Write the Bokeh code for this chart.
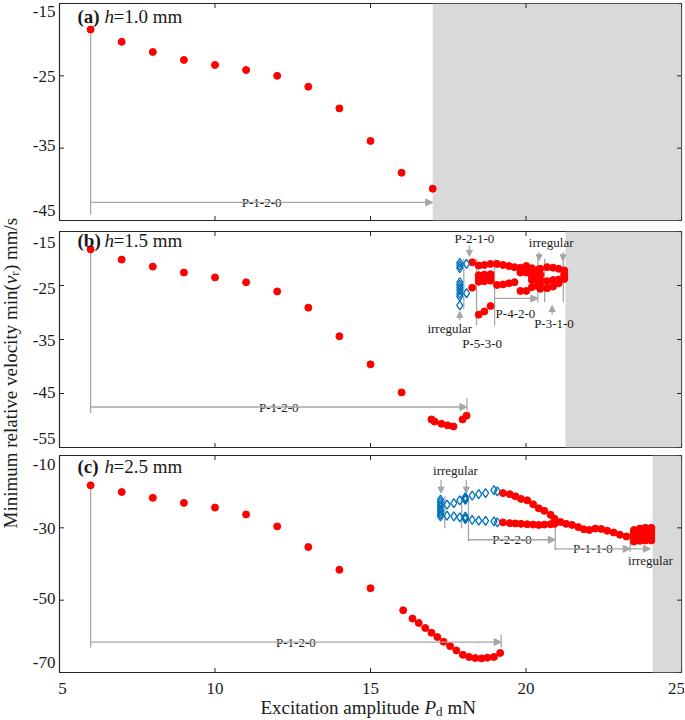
import math
from bokeh.plotting import figure
from bokeh.layouts import column, row
from bokeh.models import BoxAnnotation, Arrow, NormalHead, Range1d
from bokeh.core.properties import value
from bokeh.embed import file_html
from bokeh.resources import INLINE

FONT = "Liberation Serif"
RED = "#ff0000"
BLUE = "#0072bd"
GRAY = "#a6a6a6"
AXC = "#262626"
TXT = "#1a1a1a"

# ---------------- data ----------------
x_ticks = [5, 10, 15, 20, 25]
x_range = (5, 25)

# (a) h = 1.0 mm
a_yticks = [-45, -35, -25, -15]
a_yrange = (-45, -15)
a_shade = 17.0
a_pd = [6, 7, 8, 9, 10, 11, 12, 13, 14, 15, 16, 17]
a_v = [-18.6, -20.3, -21.7, -22.8, -23.5, -24.2, -25.0, -26.5, -29.5, -34.0, -38.4, -40.6]

# (b) h = 1.5 mm
b_yticks = [-55, -45, -35, -25, -15]
b_yrange = (-55, -15)
b_shade = 21.27
b_pd = [6, 7, 8, 9, 10, 11, 12, 13, 14, 15, 16,
        16.96, 17.06, 17.28, 17.48, 17.67, 17.96, 18.09]
b_v = [-18.3, -20.2, -21.5, -22.6, -23.5, -24.4, -26.1, -29.1, -34.4, -39.6, -44.8,
       -49.8, -50.2, -50.6, -50.9, -51.1, -49.8, -49.1]
b_red_cols = [18.27, 18.48, 18.66, 18.86, 19.07, 19.26, 19.45, 19.63, 19.82, 20.01,
              20.19, 20.38, 20.46, 20.68, 20.87, 21.05, 21.23]
b_red_vals = [[-20.7, -25.4],
              [-21.3, -23.1, -23.7, -24.3, -30.4],
              [-21.2, -23.0, -23.6, -24.2, -29.8],
              [-21.0, -22.9, -23.5, -24.1, -28.8],
              [-21.0, -24.9],
              [-21.2, -24.8],
              [-21.4, -24.6],
              [-21.6, -24.4],
              [-21.7, -22.6, -26.0],
              [-21.4, -22.6, -26.0],
              [-21.8, -22.7, -23.4, -24.0, -25.3],
              [-22.1, -22.9, -23.6, -24.3, -25.1],
              [-21.9, -23.0, -23.9, -24.9, -25.6],
              [-21.6, -24.2, -25.5],
              [-21.7, -24.0, -25.2],
              [-21.9, -23.9, -24.6],
              [-22.2, -22.6, -23.0, -23.4, -23.8]]
b_blue_cols = [17.87, 18.09]
b_blue_vals = [[-20.8, -21.3, -21.8, -24.4, -24.9, -25.4, -25.9, -26.5, -27.0, -28.7],
               [-21.0, -26.4]]

# (c) h = 2.5 mm
c_yticks = [-70, -50, -30, -10]
c_yrange = (-70, -10)
c_shade = 24.07
c_pd = [6, 7, 8, 9, 10, 11, 12, 13, 14, 15,
        16.05, 16.35, 16.55, 16.76, 16.96, 17.15, 17.35, 17.56, 17.76, 17.97,
        18.17, 18.37, 18.57, 18.76, 18.97, 19.17]
c_v = [-18.25, -20.1, -21.7, -23.1, -24.4, -26.3, -29.6, -35.3, -41.6, -46.7,
       -52.8, -55.1, -56.3, -57.7, -59.0, -60.2, -61.5, -62.7, -63.9, -65.1,
       -65.7, -66.0, -66.1, -65.9, -65.7, -64.6]
c_blue_cols = [17.25, 18.05]
c_blue_vals = [[-22.2, -22.9, -23.6, -24.3, -25.0, -25.6, -26.3, -26.85],
               [-21.9, -22.3, -26.9, -27.6]]
c_blue_pd = [17.46, 17.68, 17.87, 18.05, 18.27, 18.48, 18.70, 18.97, 19.08]
c_blue_up = [-23.6, -23.15, -22.4, -21.5, -21.1, -20.7, -20.4, -19.6, -19.9]
c_blue_lo = [-26.6, -26.85, -27.1, -27.3, -27.8, -28.0, -28.1, -28.2, -28.5]
c_red_up_pd = [19.26, 19.48, 19.66, 19.84, 20.04, 20.23, 20.41, 20.59, 20.79, 20.92]
c_red_up = [-20.4, -20.7, -21.3, -22.0, -22.4, -23.5, -24.6, -25.3, -26.4, -27.5]
c_red_lo_pd = [19.26, 19.48, 19.66, 19.84, 20.04, 20.23, 20.41, 20.59, 20.79, 20.92]
c_red_lo = [-28.5, -28.7, -28.8, -28.9, -29.0, -29.1, -29.2, -29.1, -29.0, -28.9]
c_p110_pd = [21.11, 21.29, 21.48, 21.68, 21.86, 22.04, 22.23, 22.42, 22.61, 22.82, 23.02, 23.23]
c_p110_v = [-28.4, -28.9, -29.2, -29.8, -30.4, -30.6, -30.2, -30.3, -30.8, -31.3, -31.9, -32.4]
c_irr_cols = [23.47, 23.66, 23.84, 24.03]
c_irr_vals = [[-30.6, -31.4, -32.2, -33.0, -33.8],
              [-30.2, -31.0, -31.9, -32.8, -33.6],
              [-30.0, -30.9, -31.8, -32.7, -33.5],
              [-30.0, -30.9, -31.8, -32.7, -33.5]]


def flat(cols, vals):
    xs, ys = [], []
    for c, vv in zip(cols, vals):
        for v in vv:
            xs.append(c)
            ys.append(v)
    return xs, ys


# ---------------- layout (pixels) ----------------
TW = 22          # y-title strip width
SW = 36          # y tick-label strip width
FW = 622         # frame width
BR = 3           # right border of panels
PW = 1 + FW + BR
BH = 42          # bottom strip (x tick labels + x title)
SX = (x_range[1] - x_range[0]) / FW

# (top border, frame height, bottom border) for each panel
a_box = (3, 217, 5)
b_box = (6, 216, 4)
c_box = (4, 217, 5)

BASE = dict(output_backend="svg", toolbar_location=None, x_axis_type=None, y_axis_type=None)


def ystrip(yr, yticks, box):
    top, fh, bot = box
    sy = (yr[1] - yr[0]) / fh
    f = figure(width=SW, height=top + fh + bot, x_range=Range1d(0, SW),
               y_range=Range1d(yr[0] - bot * sy, yr[1] + top * sy), min_border=0, **BASE)
    f.outline_line_color = None
    ys = []
    for t in yticks:
        if t == yr[1]:
            ys.append(t - 5 * sy)
        elif t == yr[0]:
            ys.append(t + 5 * sy)
        else:
            ys.append(t)
    f.text(x=[SW - 3] * len(yticks), y=ys, text=[str(t) for t in yticks],
           text_font=value(FONT), text_font_size="17px", text_align="right",
           text_baseline="middle", text_color=TXT)
    return f


def panel(yr, yticks, shade, box):
    top, fh, bot = box
    p = figure(width=PW, height=top + fh + bot, x_range=Range1d(*x_range),
               y_range=Range1d(*yr), min_border_left=1, min_border_right=BR,
               min_border_top=top, min_border_bottom=bot, **BASE)
    p.outline_line_color = AXC
    p.outline_line_width = 1.2
    p.add_layout(BoxAnnotation(left=shade, fill_color="#d9d9d9", fill_alpha=1.0,
                               line_color=None, level="underlay"))
    # inward tick marks on all four sides (outer half of each dash is clipped by the frame)
    for yy in (yr[0], yr[1]):
        p.scatter(x=x_ticks, y=[yy] * len(x_ticks), marker="dash", angle=math.pi / 2,
                  size=9, line_color=AXC, line_width=1)
    for xx in x_range:
        p.scatter(x=[xx] * len(yticks), y=yticks, marker="dash", size=9,
                  line_color=AXC, line_width=1)
    return p


def title(p, x, y, tag, hval):
    kw = dict(text_font=value(FONT), text_font_size="19px", text_baseline="middle",
              text_align="left", text_color=TXT)
    p.text(x=[x], y=[y], text=[tag], text_font_style="bold", **kw)
    p.text(x=[x], y=[y], text=["h"], x_offset=27, text_font_style="italic", **kw)
    p.text(x=[x], y=[y], text=["=" + hval + " mm"], x_offset=36, **kw)


def note(p, x, y, s, bg=False):
    kw = dict(text_font=value(FONT), text_font_size="13px", text_baseline="middle",
              text_align="center", text_color=TXT)
    if bg:
        kw.update(background_fill_color="white", padding=1)
    p.text(x=[x], y=[y], text=[s], **kw)


def arrow(p, x0, y0, x1, y1, size=7):
    p.add_layout(Arrow(x_start=x0, y_start=y0, x_end=x1, y_end=y1, line_color=GRAY,
                       line_width=1.3,
                       end=NormalHead(size=size, fill_color=GRAY, line_color=GRAY)))


def vlines(p, xs, y0s, y1s):
    p.segment(x0=xs, y0=y0s, x1=xs, y1=y1s, line_color=GRAY, line_width=1.3)


def reds(p, xs, ys):
    p.scatter(xs, ys, size=7, color=RED, line_color=RED)


def blues(p, xs, ys):
    p.scatter(xs, ys, marker="diamond", size=9, fill_color=None, line_color=BLUE,
              line_width=1.3)


# ---- (a) ----
pa = panel(a_yrange, a_yticks, a_shade, a_box)
vlines(pa, [a_pd[0]], [a_v[0]], [-44.2])
arrow(pa, a_pd[0], -42.5, a_shade, -42.5)
note(pa, (a_pd[0] + a_shade) / 2, -42.5, "P-1-2-0", bg=True)
reds(pa, a_pd, a_v)
title(pa, 5.58, -16.8, "(a)", "1.0")

# ---- (b) ----
pb = panel(b_yrange, b_yticks, b_shade, b_box)
vlines(pb, [b_pd[0], 18.1], [b_v[0], -45.9], [-48.6, -48.1])
arrow(pb, b_pd[0], -47.5, 18.1, -47.5)
note(pb, (b_pd[0] + 18.1) / 2, -47.5, "P-1-2-0", bg=True)
vlines(pb, [18.0, 18.41, 18.99, 20.38, 20.6, 21.2], [-20.06] * 6,
       [-29.3, -32.4, -32.4, -28.1, -28.1, -28.1])
arrow(pb, 18.99, -27.4, 20.38, -27.4)
arrow(pb, 18.18, -17.6, 18.18, -19.6, 6)
arrow(pb, 20.42, -18.8, 20.42, -20.4, 6)
arrow(pb, 21.19, -18.8, 21.19, -20.4, 6)
arrow(pb, 17.87, -31.5, 17.87, -29.8, 6)
arrow(pb, 20.84, -30.4, 20.84, -28.7, 6)
note(pb, 18.34, -16.35, "P-2-1-0")
note(pb, 20.81, -17.0, "irregular")
note(pb, 17.55, -32.9, "irregular")
note(pb, 18.59, -35.8, "P-5-3-0")
note(pb, 19.66, -30.1, "P-4-2-0")
note(pb, 20.9, -32.1, "P-3-1-0")
reds(pb, b_pd, b_v)
bx, by = flat(b_red_cols, b_red_vals)
reds(pb, bx, by)
bbx, bby = flat(b_blue_cols, b_blue_vals)
blues(pb, bbx, bby)
title(pb, 5.58, -16.7, "(b)", "1.5")

# ---- (c) ----
pc = panel(c_yrange, c_yticks, c_shade, c_box)
vlines(pc, [c_pd[0], 19.2], [c_v[0], -59.5], [-63.1, -63.1])
arrow(pc, c_pd[0], -61.6, 19.2, -61.6)
note(pc, (c_pd[0] + 19.2) / 2, -61.6, "P-1-2-0", bg=True)
vlines(pc, [17.39, 17.93, 18.15, 20.94, 23.35], [-21.3, -21.3, -22.2, -26.9, -31.5],
       [-30.1, -30.1, -33.7, -36.2, -36.6])
arrow(pc, 18.15, -33.3, 20.94, -33.3)
arrow(pc, 20.94, -35.8, 23.35, -35.8)
arrow(pc, 23.35, -35.8, 24.0, -35.8)
arrow(pc, 17.27, -16.8, 17.27, -20.4, 6)
arrow(pc, 18.08, -16.8, 18.08, -20.4, 6)
note(pc, 19.55, -33.3, "P-2-2-0", bg=True)
note(pc, 22.15, -35.8, "P-1-1-0", bg=True)
note(pc, 24.0, -38.9, "irregular")
note(pc, 17.73, -14.1, "irregular")
reds(pc, c_pd, c_v)
cbx, cby = flat(c_blue_cols, c_blue_vals)
blues(pc, cbx, cby)
blues(pc, c_blue_pd, c_blue_up)
blues(pc, c_blue_pd, c_blue_lo)
reds(pc, c_red_up_pd, c_red_up)
reds(pc, c_red_lo_pd, c_red_lo)
reds(pc, c_p110_pd, c_p110_v)
cix, ciy = flat(c_irr_cols, c_irr_vals)
reds(pc, cix, ciy)
title(pc, 5.58, -13.05, "(c)", "2.5")

# ---- bottom strip: x tick labels + x title ----
pbt = figure(width=SW + PW, height=BH,
             x_range=Range1d(x_range[0] - (SW + 1) * SX, x_range[1] + BR * SX),
             y_range=Range1d(0, BH), min_border=0, **BASE)
pbt.outline_line_color = None
xl = []
for t in x_ticks:
    if t == x_range[0]:
        xl.append(t + 3 * SX)
    elif t == x_range[1]:
        xl.append(t - 5 * SX)
    else:
        xl.append(t)
pbt.text(x=xl, y=[BH - 11] * len(x_ticks), text=[str(t) for t in x_ticks],
         text_font=value(FONT), text_font_size="17px", text_align="center",
         text_baseline="middle", text_color=TXT)
tk = dict(text_font=value(FONT), text_font_size="19px", text_baseline="middle",
          text_align="left", text_color=TXT)
xc, yc = 14.9, BH - 30
pbt.text(x=[xc], y=[yc], text=["Excitation amplitude"], x_offset=-107, **tk)
pbt.text(x=[xc], y=[yc], text=["P"], x_offset=57, text_font_style="italic", **tk)
pbt.text(x=[xc], y=[yc], text=["d"], x_offset=68.5, y_offset=4,
         text_font=value(FONT), text_font_size="13px", text_baseline="middle",
         text_align="left", text_color=TXT)
pbt.text(x=[xc], y=[yc], text=["mN"], x_offset=80, **tk)

# ---- y title strip ----
TOTAL_H = sum(a_box) + sum(b_box) + sum(c_box) + BH
pyt = figure(width=TW, height=TOTAL_H, x_range=Range1d(0, TW), y_range=Range1d(0, TOTAL_H),
             min_border=0, **BASE)
pyt.outline_line_color = None
w1, wv, wr = 244.4, 8.4, 4.6
y0 = TOTAL_H - 528
tx = 10
ky = dict(text_font=value(FONT), text_baseline="middle", text_align="left",
          text_color=TXT, angle=math.pi / 2)
pyt.text(x=[tx], y=[y0], text=["Minimum relative velocity min("], text_font_size="19px", **ky)
pyt.text(x=[tx], y=[y0 + w1], text=["v"], text_font_size="19px", text_font_style="italic", **ky)
pyt.text(x=[tx + 4], y=[y0 + w1 + wv], text=["r"], text_font_size="13px", **ky)
pyt.text(x=[tx], y=[y0 + w1 + wv + wr], text=[") mm/s"], text_font_size="19px", **ky)

right = column(row(ystrip(a_yrange, a_yticks, a_box), pa),
               row(ystrip(b_yrange, b_yticks, b_box), pb),
               row(ystrip(c_yrange, c_yticks, c_box), pc),
               pbt)
layout = row(pyt, right)
open("out.html", "w").write(file_html(layout, INLINE))
